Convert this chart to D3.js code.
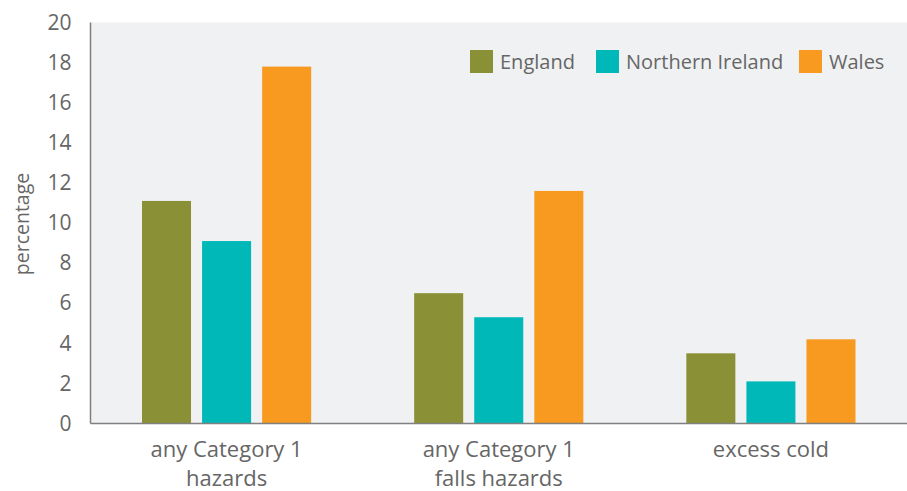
<!DOCTYPE html>
<html><head><meta charset="utf-8">
<script src="https://cdn.jsdelivr.net/npm/d3@7"></script>
<style>body{margin:0;background:#fff}svg{display:block}text{font-family:"Open Sans","Noto Sans",sans-serif;fill:#666}</style>
</head><body><svg id="c" width="907" height="491"></svg>
<script>
const categories = [["any Category 1","hazards"],["any Category 1","falls hazards"],["excess cold"]];
const seriesNames = ["England","Northern Ireland","Wales"];
const england = [11.1, 6.5, 3.5];
const northernIreland = [9.1, 5.3, 2.1];
const wales = [17.8, 11.6, 4.2];
const yTicks = [0,2,4,6,8,10,12,14,16,18,20];
const colors = ["#8a9035","#00b8b8","#f79a1f"];
const series = [england, northernIreland, wales];

const svg = d3.select("#c");
const L = 90.5, R = 907, T = 22.5, B = 423.5;
const x0 = d3.scaleBand().domain(d3.range(categories.length)).range([L, R]).paddingInner(0).paddingOuter(0);
const x1 = d3.scaleBand().domain(d3.range(series.length)).range([51.5, x0.bandwidth()-51.5]).paddingInner(0.184).paddingOuter(0);
const y = d3.scaleLinear().domain([0,20]).range([B, T]);

svg.append("rect").attr("x", L).attr("y", T).attr("width", R-L).attr("height", B-T).attr("fill", "#f0f1f3");

const g = svg.append("g");
categories.forEach((c, i) => {
  series.forEach((s, j) => {
    g.append("rect")
      .attr("x", x0(i) + x1(j))
      .attr("y", y(s[i]))
      .attr("width", x1.bandwidth())
      .attr("height", B - y(s[i]))
      .attr("fill", colors[j]);
  });
});

svg.append("line").attr("x1", L).attr("x2", L).attr("y1", T).attr("y2", B).attr("stroke", "#808080").attr("stroke-width", 1.5);
svg.append("line").attr("x1", L).attr("x2", R).attr("y1", B).attr("y2", B).attr("stroke", "#808080").attr("stroke-width", 1.5);

const yAxis = d3.axisLeft(y).tickValues(yTicks).tickSize(0).tickPadding(19);
const ya = svg.append("g").attr("transform", `translate(${L},0)`).call(yAxis);
ya.select(".domain").remove();
ya.selectAll("text").attr("font-size", 21).style("fill", "#666").attr("font-family", null);

categories.forEach((c, i) => {
  const cx = x0(i) + x0.bandwidth()/2;
  const t = svg.append("text").attr("x", cx).attr("y", 457).attr("text-anchor", "middle").attr("font-size", 22);
  c.forEach((line, k) => t.append("tspan").attr("x", cx).attr("dy", k === 0 ? 0 : 29).text(line));
});

svg.append("text").attr("transform", "translate(28.5,224) rotate(-90)").attr("text-anchor", "middle").attr("font-size", 19.5).text("percentage");

const legX = [470, 596, 799];
seriesNames.forEach((n, j) => {
  svg.append("rect").attr("x", legX[j]).attr("y", 50).attr("width", 23).attr("height", 23).attr("fill", colors[j]);
  svg.append("text").attr("x", legX[j] + 30).attr("y", 69).attr("font-size", 20).text(n);
});
</script></body></html>
